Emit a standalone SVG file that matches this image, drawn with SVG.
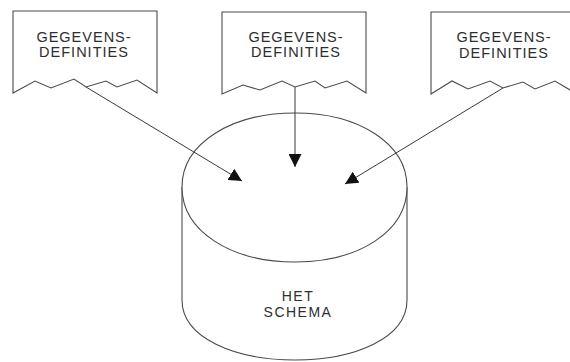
<svg xmlns="http://www.w3.org/2000/svg" width="570" height="362" viewBox="0 0 570 362">
  <style>
    .outline { fill: #ffffff; stroke: #4a4a4a; stroke-width: 1.1; stroke-linejoin: miter; }
    .edge { fill: none; stroke: #3a3a3a; stroke-width: 1; }
    .label { font-family: "Liberation Sans", Arial, sans-serif; font-size: 14.5px; fill: #2e2e2e; letter-spacing: 1px; text-anchor: middle; }
    .store-label { font-family: "Liberation Sans", Arial, sans-serif; font-size: 14px; fill: #2e2e2e; letter-spacing: 1.5px; text-anchor: middle; }
  </style>
  <defs>
    <marker id="arrow" markerUnits="userSpaceOnUse" markerWidth="14" markerHeight="13" refX="13" refY="6.5" orient="auto">
      <path d="M0,0 L13,6.5 L0,13 Z" fill="#111111"/>
    </marker>
  </defs>

  <rect width="570" height="362" fill="#ffffff"/>

  <!-- Database cylinder: body, then the top cap -->
  <g id="het-schema">
    <path class="outline" d="M182,187 L182,300 C182,338 235,360 295,360 C355,360 407,338 407,300 L407,187"/>
    <path class="outline" d="M182,187 C182,143 232,113 295,113 C358,113 407,143 407,187 C407,232 358,262 295,262 C232,262 182,232 182,187 Z"/>
    <text class="store-label" x="298" y="301">HET</text>
    <text class="store-label" x="298" y="317">SCHEMA</text>
  </g>

  <!-- Document symbols with torn lower edge -->
  <g id="doc-left">
    <path class="outline" d="M13,11 L157,11 L157,93 L137,80 L117,87 L106,81 L86,87 L74,79 L51,88 L35,81 L13,93 Z"/>
    <text class="label" x="84" y="42">GEGEVENS-</text>
    <text class="label" x="84" y="57">DEFINITIES</text>
  </g>

  <g id="doc-middle">
    <path class="outline" d="M222,12 L366,12 L366,93 L347,81 L325,88 L315,81 L295,87 L282,81 L260,90 L243,85 L222,94 Z"/>
    <text class="label" x="296" y="42">GEGEVENS-</text>
    <text class="label" x="296" y="57">DEFINITIES</text>
  </g>

  <g id="doc-right">
    <path class="outline" d="M431,12 L575,12 L575,93 L570,90 L555,81 L535,89 L523,82 L503,88 L490,81 L468,89 L452,81 L431,94 Z"/>
    <text class="label" x="504" y="42">GEGEVENS-</text>
    <text class="label" x="504" y="58">DEFINITIES</text>
  </g>

  <!-- Flows from each document into the schema -->
  <g id="connectors">
    <line class="edge" x1="86" y1="87" x2="242" y2="181" marker-end="url(#arrow)"/>
    <line class="edge" x1="295" y1="87" x2="295" y2="167" marker-end="url(#arrow)"/>
    <line class="edge" x1="503" y1="88" x2="345" y2="184" marker-end="url(#arrow)"/>
  </g>
</svg>
